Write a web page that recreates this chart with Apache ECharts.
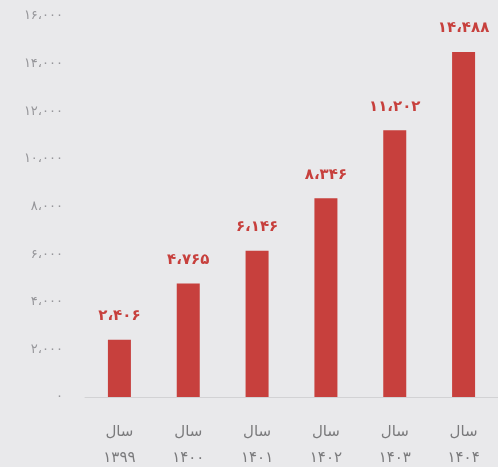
<!DOCTYPE html>
<html>
<head>
<meta charset="utf-8">
<script src="https://cdn.jsdelivr.net/npm/echarts@6/dist/echarts.min.js"></script>
<style>
* { margin: 0; padding: 0; }
body { background: #e9e9eb; }
#chart { width: 498px; height: 467px; }
</style>
</head>
<body>
<div id="chart"></div>
<script>
// داده‌ها
const years = ['۱۳۹۹', '۱۴۰۰', '۱۴۰۱', '۱۴۰۲', '۱۴۰۳', '۱۴۰۴'];
const values = [2406, 4765, 6146, 8346, 11202, 14488];
const valueLabels = ['۲،۴۰۶', '۴،۷۶۵', '۶،۱۴۶', '۸،۳۴۶', '۱۱،۲۰۲', '۱۴،۴۸۸'];
const tickLabels = ['۰', '۲،۰۰۰', '۴،۰۰۰', '۶،۰۰۰', '۸،۰۰۰', '۱۰،۰۰۰', '۱۲،۰۰۰', '۱۴،۰۰۰', '۱۶،۰۰۰'];

const red = '#c7403d';
const font = '"DejaVu Sans", "Noto Sans", sans-serif';

const chart = echarts.init(document.getElementById('chart'));
chart.setOption({
    backgroundColor: '#e9e9eb',
    animation: false,
    grid: { left: 85, right: 0, top: 16, bottom: 70 },
    xAxis: {
        type: 'category',
        data: years,
        axisLine: { lineStyle: { color: '#d2d2d4', width: 1 } },
        axisTick: { show: false },
        axisLabel: {
            margin: 22,
            formatter: v => '{a|سال}\n{b|' + v + '}',
            rich: {
                a: { fontSize: 15, color: '#7a7a7c', fontFamily: font, lineHeight: 26 },
                b: { fontSize: 15, color: '#7a7a7c', fontFamily: font, lineHeight: 26 }
            }
        }
    },
    yAxis: {
        type: 'value',
        min: 0,
        max: 16000,
        interval: 2000,
        splitLine: { show: false },
        axisLine: { show: false },
        axisTick: { show: false },
        axisLabel: {
            margin: 22,
            color: '#96969a',
            fontSize: 13,
            fontFamily: font,
            formatter: (v) => tickLabels[v / 2000]
        }
    },
    series: [{
        type: 'bar',
        data: values,
        barWidth: 23,
        itemStyle: { color: red },
        label: {
            show: true,
            position: 'top',
            distance: 16,
            color: red,
            fontSize: 15,
            fontWeight: 'bold',
            fontFamily: font,
            formatter: p => valueLabels[p.dataIndex]
        }
    }]
});
</script>
</body>
</html>
